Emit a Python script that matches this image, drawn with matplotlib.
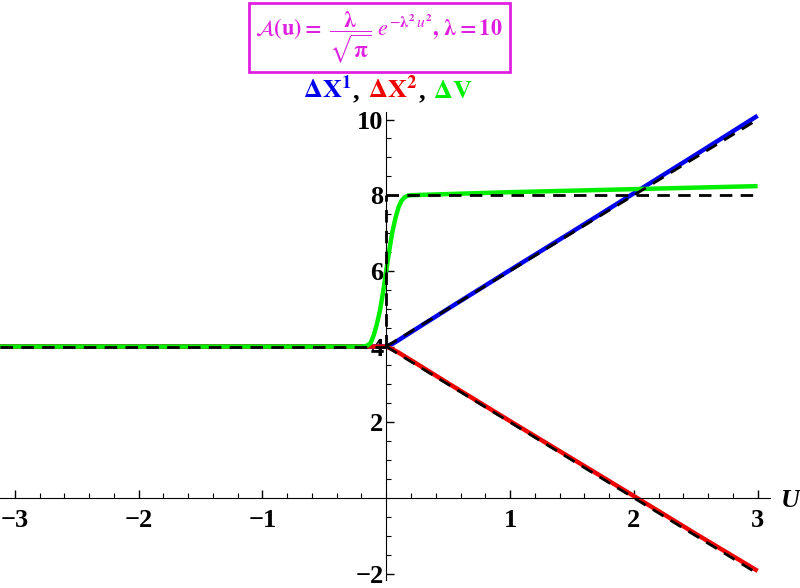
import matplotlib
matplotlib.use('Agg')
import matplotlib.pyplot as plt
from matplotlib.offsetbox import TextArea, HPacker, AnnotationBbox
from matplotlib.ticker import MultipleLocator, FixedLocator

plt.rcParams['font.family'] = ['Liberation Serif', 'DejaVu Serif']
plt.rcParams['mathtext.fontset'] = 'stix'

# curves
u_x1 = [-3.12, 0.0, 0.05, 0.1, 0.2, 0.5, 1.0, 1.5, 2.0, 2.5, 3.0]
dx1 = [4.0, 4.0, 4.07, 4.17, 4.38, 5.0, 6.02, 7.03, 8.05, 9.07, 10.1]
dx2 = [4.0, 4.0, 3.93, 3.84, 3.64, 3.03, 2.03, 1.04, 0.05, -0.95, -1.93]

u_v = [-3.12, -0.2, -0.175, -0.15, -0.125, -0.1, -0.075, -0.05, -0.025, 0.0,
       0.025, 0.05, 0.075, 0.1, 0.125, 0.15, 0.175, 0.2, 0.3, 1.0, 2.0, 3.0]
dv = [4.0, 4.0, 4.01, 4.03, 4.1, 4.31, 4.6, 4.96, 5.45, 6.0,
      6.55, 7.04, 7.4, 7.69, 7.86, 7.95, 7.99, 8.0, 8.01, 8.08, 8.16, 8.24]

# asymptotic (dashed) reference lines
asym_flat_u = [-3.12, 0.0]
asym_flat_y = [4.0, 4.0]
asym_jump_u = [0.0, 0.0]
asym_jump_y = [4.0, 8.0]
asym_v_u = [0.0, 3.0]
asym_v_y = [8.0, 8.0]
asym_x_u = [0.0, 3.0]
asym_x1_y = [4.0, 10.0]
asym_x2_y = [4.0, -2.0]

x_ticks = [-3, -2, -1, 1, 2, 3]
y_ticks = [-2, 2, 4, 6, 8, 10]

fig = plt.figure(figsize=(8, 5.88), dpi=100)
ax = fig.add_axes([0.0, 0.0136, 0.9625, 0.796])

ax.plot(u_x1, dx1, color='#0000ee', lw=3.2, solid_capstyle='butt')
ax.plot(u_x1, dx2, color='#ee0000', lw=3.2, solid_capstyle='butt')
ax.plot(u_v, dv, color='#00ee00', lw=3.2, solid_capstyle='butt')

dash = dict(color='black', lw=2, dashes=(4.5, 3))
ax.plot(asym_flat_u, asym_flat_y, **dash)
ax.plot(asym_jump_u, asym_jump_y, **dash)
ax.plot(asym_v_u, asym_v_y, **dash)
ax.plot(asym_x_u, asym_x1_y, **dash)
ax.plot(asym_x_u, asym_x2_y, **dash)

ax.set_xlim(-3.12, 3.10)
ax.set_ylim(-2.17, 10.2)

ax.spines['left'].set_position(('data', 0))
ax.spines['bottom'].set_position(('data', 0))
ax.spines['right'].set_visible(False)
ax.spines['top'].set_visible(False)

ax.xaxis.set_major_locator(FixedLocator(x_ticks))
ax.xaxis.set_minor_locator(MultipleLocator(0.2))
ax.yaxis.set_major_locator(FixedLocator(y_ticks))
ax.yaxis.set_minor_locator(MultipleLocator(0.5))
ax.set_xticklabels([f'\u2212{-t}' if t < 0 else str(t) for t in x_ticks],
                   fontweight='bold', fontsize=19)
ax.set_yticklabels([f'\u2212{-t}' if t < 0 else str(t) for t in y_ticks],
                   fontweight='bold', fontsize=19)

ax.tick_params(axis='x', which='major', direction='in', length=6, width=1, pad=8)
ax.tick_params(axis='x', which='minor', direction='in', length=3.5, width=0.8)
ax.tick_params(axis='y', which='major', direction='in', length=6, width=1, pad=2)
ax.tick_params(axis='y', which='minor', direction='in', length=3.5, width=0.8)

fig.text(0.988, 0.148, 'U', fontsize=19, fontstyle='italic', fontweight='bold',
         ha='center', va='center')

title = (r'$\mathcal{A}\mathbf{(u)=}\ \dfrac{\mathbf{\lambda}}{\sqrt{\mathbf{\pi}}}\ '
         r'e^{-\mathbf{\lambda}^\mathbf{2}\, u^\mathbf{2}}\mathbf{,}\ \mathbf{\lambda=10}$')
fig.text(0.474, 0.937, title, fontsize=16, color='#e020e0',
         ha='center', va='center',
         bbox=dict(boxstyle='square,pad=0.3', fc='white', ec='#e020e0', lw=2))

# coloured legend line
parts = [(r'$\mathbf{\Delta X^1}$', '#0000ee'), (', ', 'black'),
         (r'$\mathbf{\Delta X^2}$', '#ee0000'), (', ', 'black'),
         (r'$\mathbf{\Delta V}$', '#00ee00')]
areas = [TextArea(t, textprops=dict(color=c, fontsize=19, fontweight='bold'))
         for t, c in parts]
pack = HPacker(children=areas, align='baseline', pad=0, sep=1)
ab = AnnotationBbox(pack, (0.485, 0.848), xycoords='figure fraction',
                    frameon=False, box_alignment=(0.5, 0.5))
fig.add_artist(ab)

fig.savefig('out.png', dpi=100)
